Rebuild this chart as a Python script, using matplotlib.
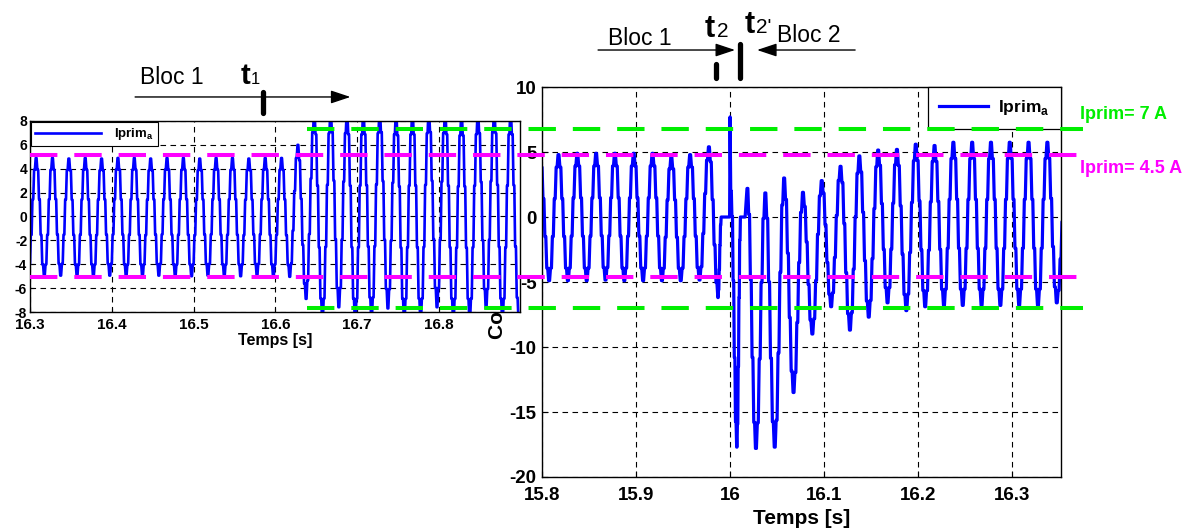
import matplotlib.pyplot as plt
import matplotlib.transforms as mtransforms

plt.rcParams['font.family'] = ['Liberation Sans', 'DejaVu Sans']
plt.rcParams['mathtext.fontset'] = 'custom'
plt.rcParams['mathtext.bf'] = 'Liberation Sans:bold'
plt.rcParams['mathtext.rm'] = 'Liberation Sans'
plt.rcParams['axes.unicode_minus'] = False

# ---- data ----
# extremes of Iprim_a, one every half period (10 ms), alternating trough / peak
left_t0 = 16.297          # first trough
left_ext = [-5.0, 4.9, -5.0, 4.9, -4.95, 4.85, -5.0, 4.9, -5.0, 4.85,
            -4.95, 4.9, -5.0, 4.9, -5.0, 4.85, -4.95, 4.9, -5.0, 4.9,
            -5.0, 4.85, -4.95, 4.9, -5.0, 4.9, -5.0, 4.85, -4.95, 4.9,
            -5.0, 4.9, -5.05, 6.0, -6.9, 8.6, -8.6, 8.7, -7.6, 8.6,
            -8.6, 8.6, -8.5, 8.7, -7.7, 8.5, -8.6, 8.6, -8.6, 8.7,
            -7.6, 8.6, -8.6, 8.5, -8.6, 8.6, -7.7, 8.7, -8.6, 8.6, -8.5]

right_t0 = 15.797         # first peak
right_ext = [4.8, -4.9, 4.8, -4.9, 4.9, -4.9, 4.9, -4.85, 4.9, -4.9,
             4.9, -4.9, 4.9, -4.9, 4.65, -4.9, 4.8, -4.85, 5.4, -6.2,
             None, -17.7, None, -17.8, 1.85, -17.7, 3.0, -13.5, 1.9, -9.0,
             2.8, -6.9, 3.9, -8.7, 4.7, -7.7, 5.15, -6.6, 5.2, -7.2,
             5.6, -6.9, 5.5, -6.8, 5.75, -6.8, 5.75, -6.8, 5.75, -6.8,
             5.75, -6.8, 5.75, -6.8, 5.75, -6.6, 3.0]
# zero plateaus and spike around the fault (t, value)
fault_t = [15.9905, 15.9995, 16.0, 16.0007, 16.011, 16.016, 16.018]
fault_v = [0.0, 0.0, 7.7, 2.0, 0.0, 0.0, 2.2]

# shelves of the sampled current inside one half swing
STEP_FRAC = [0.0, 0.1, 0.35, 0.65, 0.9]

# reference levels (drawn over both panels)
green_levels = [6.8, -7.0]
magenta_levels = [4.8, -4.65]

BLUE = '#0000ff'
GREEN = '#00ee00'
MAGENTA = '#ff00ff'


def extremes(t0, ext, extra_t=(), extra_v=()):
    pts = [(t0 + 0.01 * i, v) for i, v in enumerate(ext) if v is not None]
    pts += list(zip(extra_t, extra_v))
    pts.sort()
    return [p[0] for p in pts], [p[1] for p in pts]


def staircase(ts, vs):
    xs, ys = [], []
    for ta, va, tb, vb in zip(ts, vs, ts[1:], vs[1:]):
        dt = tb - ta
        if dt < 0.003:
            xs.append(ta)
            ys.append(va)
            continue
        n = len(STEP_FRAC)
        for k, f in enumerate(STEP_FRAC):
            lev = va + f * (vb - va)
            xs += [ta + dt * k / n, ta + dt * (k + 0.5) / n]
            ys += [lev, lev]
    xs.append(ts[-1])
    ys.append(vs[-1])
    return xs, ys


lt, lv = staircase(*extremes(left_t0, left_ext))
rt, rv = staircase(*extremes(right_t0, right_ext, fault_t, fault_v))

fig = plt.figure(figsize=(11.9, 5.29), dpi=100)
ax2 = fig.add_axes([0.4555, 0.0983, 0.4361, 0.7372], zorder=1)
ax1 = fig.add_axes([0.0252, 0.4102, 0.4118, 0.3611], zorder=3)

grid_kw = dict(color='k', linestyle=(0, (5, 4)), linewidth=0.8)

# ---- left panel ----
ax1.plot(lt, lv, color=BLUE, lw=1.9, label=r'Iprim$_\mathbf{a}$')
ax1.set_xlim(16.3, 16.899)
ax1.set_ylim(-8, 8)
ax1.set_xticks([16.3, 16.4, 16.5, 16.6, 16.7, 16.8])
ax1.set_yticks(range(-8, 9, 2))
ax1.grid(True, **grid_kw)
ax1.tick_params(direction='in', labelsize=10, pad=2, length=3)
ax1.tick_params(axis='x', labelsize=11, pad=4.5)
for lab in ax1.get_xticklabels() + ax1.get_yticklabels():
    lab.set_fontweight('bold')
ax1.set_xlabel('Temps [s]', fontsize=11.5, fontweight='bold', labelpad=0.5)
leg1 = ax1.legend(loc='upper left', borderaxespad=0.1, fancybox=False,
                  framealpha=1, edgecolor='k', handlelength=5,
                  borderpad=0.3, handletextpad=1.0,
                  prop={'weight': 'bold', 'size': 9.5})
leg1.get_frame().set_linewidth(0.8)

# ---- right panel ----
ax2.plot(rt, rv, color=BLUE, lw=2.3, label=r'Iprim$_\mathbf{a}$')
ax2.set_xlim(15.8, 16.352)
ax2.set_ylim(-20, 10)
ax2.set_xticks([15.8, 15.9, 16.0, 16.1, 16.2, 16.3])
ax2.set_xticklabels(['15.8', '15.9', '16', '16.1', '16.2', '16.3'])
ax2.set_yticks([-20, -15, -10, -5, 0, 5, 10])
ax2.grid(True, **grid_kw)
ax2.tick_params(direction='in', labelsize=13.5, pad=4, length=4)
ax2.tick_params(axis='x', pad=7)
for lab in ax2.get_xticklabels() + ax2.get_yticklabels():
    lab.set_fontweight('bold')
ax2.set_xlabel('Temps [s]', fontsize=15, fontweight='bold', labelpad=4)
ax2.set_ylabel('Courant [A]', fontsize=15, fontweight='bold', labelpad=2)
leg2 = ax2.legend(loc='upper right', borderaxespad=0.0, fancybox=False,
                  framealpha=1, edgecolor='k', handlelength=2.8,
                  borderpad=0.65, handletextpad=0.6,
                  prop={'weight': 'bold', 'size': 12.5})
leg2.get_frame().set_linewidth(0.9)

for ax in (ax1, ax2):
    for s in ax.spines.values():
        s.set_linewidth(1.0)

# ---- annotations above the panels ----
tr1 = mtransforms.blended_transform_factory(ax1.transData, ax1.transAxes)
tr2 = mtransforms.blended_transform_factory(ax2.transData, ax2.transAxes)

ax1.text(16.4346, 1.194, 'Bloc 1', transform=tr1, fontsize=16.5,
         ha='left', va='baseline')
ax1.text(16.557, 1.194, 't', transform=tr1, fontsize=21, fontweight='bold',
         ha='left', va='baseline')
ax1.text(16.5695, 1.194, '1', transform=tr1, fontsize=12, ha='left', va='baseline')
ax1.annotate('', xy=(16.6917, 1.1257), xytext=(16.4285, 1.1257),
             xycoords=tr1, textcoords=tr1,
             arrowprops=dict(arrowstyle='-|>,head_length=0.6,head_width=0.2',
                             color='k', lw=1, mutation_scale=20,
                             shrinkA=0, shrinkB=0))
ax1.plot([16.5852, 16.5852], [1.04, 1.15], transform=tr1, color='k',
         lw=3.8, solid_capstyle='round', clip_on=False)

ax2.text(15.870, 1.1077, 'Bloc 1', transform=tr2, fontsize=16.5,
         ha='left', va='baseline')
ax2.text(15.9734, 1.128, 't', transform=tr2, fontsize=22, fontweight='bold',
         ha='left', va='baseline')
ax2.text(15.9865, 1.128, '2', transform=tr2, fontsize=15, ha='left', va='baseline')
ax2.text(16.015, 1.138, 't', transform=tr2, fontsize=22, fontweight='bold',
         ha='left', va='baseline')
ax2.text(16.028, 1.138, "2'", transform=tr2, fontsize=15, ha='left', va='baseline')
ax2.text(16.050, 1.115, 'Bloc 2', transform=tr2, fontsize=16.5,
         ha='left', va='baseline')
arrow_kw = dict(arrowstyle='-|>,head_length=0.6,head_width=0.2', color='k',
                lw=1, mutation_scale=20, shrinkA=0, shrinkB=0)
ax2.annotate('', xy=(16.0053, 1.0949), xytext=(15.8596, 1.0949),
             xycoords=tr2, textcoords=tr2, arrowprops=arrow_kw)
ax2.annotate('', xy=(16.0287, 1.0949), xytext=(16.133, 1.0949),
             xycoords=tr2, textcoords=tr2, arrowprops=arrow_kw)
ax2.plot([15.985, 15.985], [1.022, 1.06], transform=tr2, color='k',
         lw=3.8, solid_capstyle='round', clip_on=False)
ax2.plot([16.0106, 16.0106], [1.022, 1.11], transform=tr2, color='k',
         lw=3.8, solid_capstyle='round', clip_on=False)

# ---- reference levels drawn across both panels ----
ov = fig.add_axes(ax2.get_position().bounds, zorder=5)
ov.set_xlim(0, 1)
ov.set_ylim(-20, 10)
ov.axis('off')
for lev in green_levels:
    ov.plot([-0.453, 1.042], [lev, lev], color=GREEN, lw=2.9,
            dashes=(6.8, 4.2), clip_on=False)
for lev in magenta_levels:
    ov.plot([-0.9865, 1.05], [lev, lev], color=MAGENTA, lw=2.9,
            dashes=(6.8, 4.2), clip_on=False)
ov.text(1.0366, 7.85, 'Iprim= 7 A', color=GREEN, fontsize=13,
        fontweight='bold', ha='left', va='center')
ov.text(1.0366, 3.77, 'Iprim= 4.5 A', color=MAGENTA, fontsize=13,
        fontweight='bold', ha='left', va='center')

fig.savefig('out.png', dpi=100)
